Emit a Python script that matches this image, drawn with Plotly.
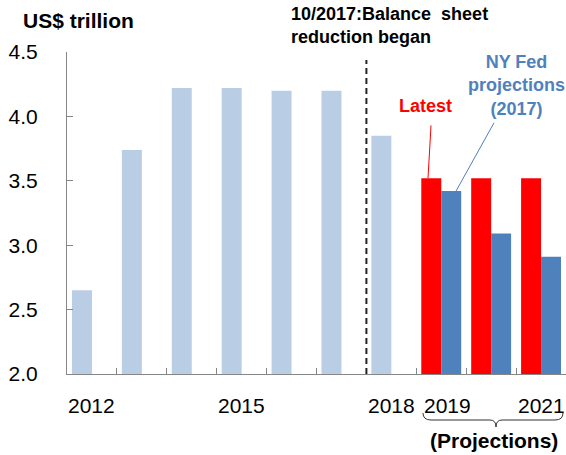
import plotly.graph_objects as go

# ---- data ----
years = [2012, 2013, 2014, 2015, 2016, 2017, 2018, 2019, 2020, 2021]
actual_latest = [2.65, 3.74, 4.22, 4.22, 4.20, 4.20, 3.85, 3.52, 3.52, 3.52]
nyfed_2017 = [None, None, None, None, None, None, None, 3.42, 3.09, 2.91]
n_hist = 7  # first 7 points are actuals, rest projections
label_years = [2012, 2015, 2018, 2019, 2021]
label_text = ["2012", "2015", "2018", "2019", "2021"]
y_ticks = [2.0, 2.5, 3.0, 3.5, 4.0, 4.5]

LIGHT = "#B9CDE5"
BLUE = "#4F81BD"
RED = "#FF0000"
FONT = "Liberation Sans, Arial, sans-serif"

W, H = 566, 455
L, R, T, B = 67, 0, 52, 81
Y0, Y1 = 2.0, 4.5
X0, X1 = years[0] - 0.5, years[-1] + 0.5
pw = W - L - R
ph = H - T - B


def px_to_x(px):
    return X0 + (px - L) / pw * (X1 - X0)


def py_to_paper(py):
    return (H - B - py) / ph


colors1 = [LIGHT] * n_hist + [RED] * (len(years) - n_hist)

fig = go.Figure()
fig.add_trace(go.Bar(x=years, y=actual_latest, marker=dict(color=colors1, line=dict(width=0)),
                     name="Latest", showlegend=False))
fig.add_trace(go.Bar(x=years, y=nyfed_2017, marker=dict(color=BLUE, line=dict(width=0)),
                     name="NY Fed projections (2017)", showlegend=False))

fig.update_layout(
    width=W, height=H,
    margin=dict(l=L, r=R, t=T, b=B, pad=0),
    plot_bgcolor="white", paper_bgcolor="white",
    barmode="group", bargap=0.2, bargroupgap=0,
    font=dict(family=FONT, size=21, color="black"),
    xaxis=dict(range=[X0, X1], showgrid=False, zeroline=False,
               showline=True, linecolor="#868686", linewidth=1,
               tickmode="array", tickvals=[y + 0.5 for y in years[:-1]],
               ticks="inside", ticklen=6, tickcolor="#868686",
               showticklabels=False),
    yaxis=dict(range=[Y0, Y1], showgrid=False, zeroline=False,
               showline=True, linecolor="#868686", linewidth=1,
               tickmode="array", tickvals=y_ticks, tickformat=".1f",
               ticks="inside", ticklen=6, tickcolor="#868686",
               ticklabelstandoff=24,
               tickfont=dict(size=21, family=FONT)),
)

ann = []
# x labels
for yv, t in zip(label_years, label_text):
    ann.append(dict(x=yv, y=py_to_paper(405), xref="x", yref="paper", text=t,
                    showarrow=False, xanchor="center", yanchor="middle",
                    xshift=6 if yv == 2019 else 0,
                    font=dict(size=21, family=FONT)))
# unit label
ann.append(dict(x=(21 - L) / pw, y=py_to_paper(20), xref="paper", yref="paper",
                text="<b>US$ trillion</b>", showarrow=False, xanchor="left",
                yanchor="middle", font=dict(size=21, family=FONT)))
ann.append(dict(x=(289 - L) / pw, y=py_to_paper(26), xref="paper", yref="paper",
                text="<b>10/2017:Balance  sheet<br>reduction began</b>", showarrow=False,
                xanchor="left", yanchor="middle", align="left",
                font=dict(size=18, family=FONT)))
ann.append(dict(x=px_to_x(425), y=py_to_paper(106), xref="x", yref="paper",
                text="<b>Latest</b>", showarrow=False, xanchor="center", yanchor="middle",
                font=dict(size=18, family=FONT, color=RED)))
ann.append(dict(x=px_to_x(516), y=py_to_paper(85), xref="x", yref="paper",
                text="<b>NY Fed<br>projections<br>(2017)</b>", showarrow=False,
                xanchor="center", yanchor="middle", align="center",
                font=dict(size=18, family=FONT, color=BLUE)))
ann.append(dict(x=px_to_x(494), y=py_to_paper(440), xref="x", yref="paper",
                text="<b>(Projections)</b>", showarrow=False, xanchor="center",
                yanchor="middle", font=dict(size=21, family=FONT)))

shapes = []
# dashed line at start of balance sheet reduction
shapes.append(dict(type="line", xref="x", yref="paper", x0=2017.5, x1=2017.5,
                   y0=0, y1=py_to_paper(60), line=dict(color="#222222", width=2, dash="6px,4px")))
# leader lines
shapes.append(dict(type="line", xref="x", yref="y", x0=px_to_x(431), y0=3.93,
                   x1=px_to_x(428), y1=actual_latest[7], line=dict(color=RED, width=1)))
shapes.append(dict(type="line", xref="x", yref="y", x0=px_to_x(494), y0=3.95,
                   x1=px_to_x(456), y1=nyfed_2017[7], line=dict(color=BLUE, width=1)))

# curly brace under projections
def P(px, py):
    return f"{px_to_x(px):.4f},{py_to_paper(py):.4f}"

xa, xb = 423, 563
xm = (xa + xb) / 2 + 3
ytop, ymid, ytip = 413, 420, 427
path = (f"M {P(xa, ytop)} Q {P(xa, ymid)} {P(xa + 8, ymid)} L {P(xm - 6, ymid)} "
        f"Q {P(xm, ymid)} {P(xm, ytip)} Q {P(xm, ymid)} {P(xm + 6, ymid)} "
        f"L {P(xb - 8, ymid)} Q {P(xb, ymid)} {P(xb, ytop)}")
shapes.append(dict(type="path", xref="x", yref="paper", path=path,
                   line=dict(color="#333333", width=1)))

fig.update_layout(annotations=ann, shapes=shapes)
fig.write_html("out.html", config={"displayModeBar": False},
               post_script="document.body.style.margin='0';document.body.style.overflow='hidden';")
